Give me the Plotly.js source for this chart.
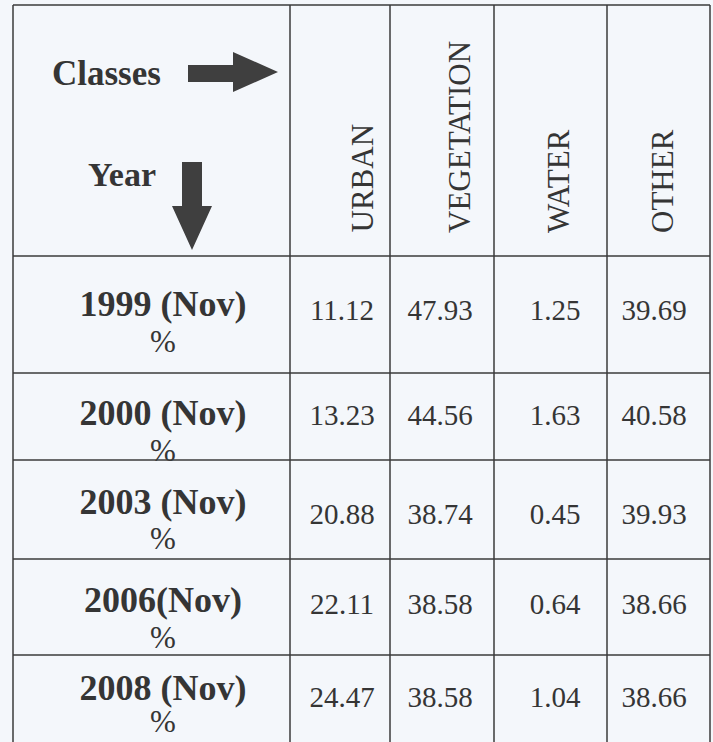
<!DOCTYPE html>
<html>
<head>
<meta charset="utf-8">
<script src="https://cdn.plot.ly/plotly-3.0.1.min.js"></script>
<style>html,body{margin:0;padding:0;background:#f4f7fb;}#chart{width:713px;height:742px;}</style>
</head>
<body>
<div id="chart"></div>
<script>
// ---- data ----
var classes = ['URBAN', 'VEGETATION', 'WATER', 'OTHER'];
var years = ['1999 (Nov)', '2000 (Nov)', '2003 (Nov)', '2006(Nov)', '2008 (Nov)'];
var urban = [11.12, 13.23, 20.88, 22.11, 24.47];
var vegetation = [47.93, 44.56, 38.74, 38.58, 38.58];
var water = [1.25, 1.63, 0.45, 0.64, 1.04];
var other = [39.69, 40.58, 39.93, 38.66, 38.66];
var rowUnit = '%';
var cornerLabels = ['Classes', 'Year'];

// ---- layout geometry (pixel space of the table) ----
var colLines = [13, 290, 390, 494, 607, 710];
var rowLines = [5, 256, 373, 460, 559, 655];
var tableTop = 5, tableBottom = 742, tableLeft = 13, tableRight = 710;
var valueX = [342, 440, 555, 654];
var valueY = [313, 418, 517, 607, 700];
var yearX = 163;
var yearY = [307, 416, 505, 603, 691];
var pctY = [344, 453, 541, 640, 724];
var headerX = [362, 459, 558, 662];
var headerBottom = 235;

var lineColor = '#3b3b3b';
var textColor = '#353535';
var serif = '"Liberation Serif", "Times New Roman", serif';

var series = [urban, vegetation, water, other];
var traces = [];
series.forEach(function (vals, j) {
  traces.push({
    type: 'scatter', mode: 'text',
    x: vals.map(function () { return valueX[j]; }),
    y: valueY,
    text: vals.map(function (v) { return v.toFixed(2); }),
    textposition: 'middle center',
    textfont: {family: serif, size: 29, color: textColor},
    hoverinfo: 'skip', showlegend: false, name: classes[j]
  });
});
traces.push({
  type: 'scatter', mode: 'text',
  x: years.map(function () { return yearX; }), y: yearY,
  text: years, textposition: 'middle center',
  textfont: {family: serif, size: 36, color: textColor, weight: 'bold'},
  hoverinfo: 'skip', showlegend: false
});
traces.push({
  type: 'scatter', mode: 'text',
  x: years.map(function () { return yearX; }), y: pctY,
  text: years.map(function () { return rowUnit; }), textposition: 'middle center',
  textfont: {family: serif, size: 31, color: textColor},
  hoverinfo: 'skip', showlegend: false
});

var shapes = [];
colLines.forEach(function (x) {
  shapes.push({type: 'line', xref: 'x', yref: 'y', x0: x, x1: x, y0: tableTop, y1: tableBottom,
    line: {color: lineColor, width: 1.5}});
});
rowLines.forEach(function (y) {
  shapes.push({type: 'line', xref: 'x', yref: 'y', x0: tableLeft, x1: tableRight, y0: y, y1: y,
    line: {color: lineColor, width: 1.5}});
});
// arrows
shapes.push({type: 'path', xref: 'x', yref: 'y',
  path: 'M188,65 L233,65 L233,52 L278,72 L233,92 L233,82 L188,82 Z',
  fillcolor: '#3f3f3f', line: {width: 0}});
shapes.push({type: 'path', xref: 'x', yref: 'y',
  path: 'M182,162 L202,162 L202,206 L212,206 L192,250 L172,206 L182,206 Z',
  fillcolor: '#3f3f3f', line: {width: 0}});

var annotations = [];
annotations.push({x: 106, y: 73, xref: 'x', yref: 'y', text: '<b>' + cornerLabels[0] + '</b>', showarrow: false,
  font: {family: serif, size: 35, color: textColor}, xanchor: 'center', yanchor: 'middle'});
annotations.push({x: 122, y: 174, xref: 'x', yref: 'y', text: '<b>' + cornerLabels[1] + '</b>', showarrow: false,
  font: {family: serif, size: 34, color: textColor}, xanchor: 'center', yanchor: 'middle'});
classes.forEach(function (c, j) {
  annotations.push({x: headerX[j], y: headerBottom, xref: 'x', yref: 'y', text: c, showarrow: false,
    textangle: -90, xanchor: 'center', yanchor: 'bottom',
    font: {family: serif, size: 31, color: textColor}});
});

var layout = {
  width: 713, height: 742,
  margin: {l: 0, r: 0, t: 0, b: 0, pad: 0},
  paper_bgcolor: '#f4f7fb', plot_bgcolor: '#f4f7fb',
  xaxis: {range: [0, 713], visible: false, fixedrange: true},
  yaxis: {range: [742, 0], visible: false, fixedrange: true},
  shapes: shapes, annotations: annotations, showlegend: false
};
Plotly.newPlot('chart', traces, layout, {displayModeBar: false, staticPlot: true});
</script>
</body>
</html>
